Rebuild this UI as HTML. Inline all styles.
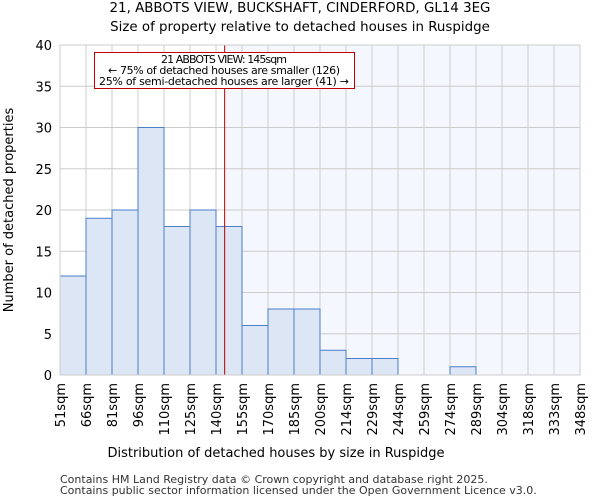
<!DOCTYPE html>
<html><head><meta charset="utf-8"><style>
body{margin:0;background:#fff;font-family:"DejaVu Sans","Liberation Sans",sans-serif}
</style></head><body>
<svg id="chart" width="600" height="500" xmlns="http://www.w3.org/2000/svg" font-family="DejaVu Sans, Liberation Sans, sans-serif">
<text x="300" y="12" text-anchor="middle" font-size="13.4">21, ABBOTS VIEW, BUCKSHAFT, CINDERFORD, GL14 3EG</text>
<text x="300" y="31" text-anchor="middle" font-size="13.4">Size of property relative to detached houses in Ruspidge</text>
<g id="plot"></g>
<text x="276" y="457" text-anchor="middle" font-size="13">Distribution of detached houses by size in Ruspidge</text>
<text transform="translate(13,210) rotate(-90)" text-anchor="middle" font-size="13">Number of detached properties</text>
<text x="60" y="483" font-size="11" fill="#333">Contains HM Land Registry data © Crown copyright and database right 2025.</text>
<text x="60" y="494" font-size="11" fill="#333">Contains public sector information licensed under the Open Government Licence v3.0.</text>
</svg>
<script>
const binLabels=["51sqm","66sqm","81sqm","96sqm","110sqm","125sqm","140sqm","155sqm","170sqm","185sqm","200sqm","214sqm","229sqm","244sqm","259sqm","274sqm","289sqm","304sqm","318sqm","333sqm","348sqm"];
const binEdges=[51,66,81,96,110,125,140,155,170,185,200,214,229,244,259,274,289,304,318,333,348];
const counts=[12,19,20,30,18,20,18,6,8,8,3,2,2,0,0,1,0,0,0,0];
const yTicks=[0,5,10,15,20,25,30,35,40];
const propertySize=145;
const annotationLines=["21 ABBOTS VIEW: 145sqm","← 75% of detached houses are smaller (126)","25% of semi-detached houses are larger (41) →"];
const NS="http://www.w3.org/2000/svg";
const L=60,R=580,T=45,B=375,yMax=40;
const g=document.getElementById('plot');
const xi=i=>L+i*(R-L)/counts.length;
const xv=v=>{for(let i=0;i<binEdges.length-1;i++){if(v<=binEdges[i+1])return xi(i)+(v-binEdges[i])/(binEdges[i+1]-binEdges[i])*(xi(i+1)-xi(i));}return R;};
const y=v=>B-v/yMax*(B-T);
function mk(tag,attrs){const e=document.createElementNS(NS,tag);for(const k in attrs)e.setAttribute(k,attrs[k]);g.appendChild(e);return e;}
const px=xv(propertySize);
let e=mk('rect',{x:px,y:T,width:R-px,height:B-T,fill:'#f4f7fd'});


yTicks.forEach(t=>{let l=mk('line',{x1:L,x2:R,y1:y(t),y2:y(t),stroke:'#ccc'});


let tx=mk('text',{x:L-8,y:y(t)+5,'text-anchor':'end','font-size':13});tx.textContent=t;

});
binLabels.forEach((lab,i)=>{let l=mk('line',{x1:xi(i),x2:xi(i),y1:T,y2:B,stroke:'#ccc'});


let tx=mk('text',{transform:`translate(${xi(i)+5},${B+8}) rotate(-90)`,'text-anchor':'end','font-size':13});tx.textContent=lab;

});
counts.forEach((c,i)=>{if(c<=0)return;let r=mk('rect',{x:xi(i),y:y(c),width:xi(i+1)-xi(i),height:B-y(c),fill:'#dce6f4',stroke:'#4a7fcb','stroke-width':1});

});
e=mk('line',{x1:px,x2:px,y1:T,y2:B,stroke:'#b00000','stroke-width':1});


e=mk('rect',{x:94.5,y:52.5,width:260,height:36,fill:'#fff',stroke:'#c00000'});


annotationLines.forEach((s,i)=>{let tx=mk('text',{x:224,y:63+i*11,'text-anchor':'middle','font-size':11,textLength:i==0?126:(i==1?232:250)});tx.textContent=s;

});
e=mk('rect',{x:L,y:T,width:R-L,height:B-T,fill:'none',stroke:'#ccc'});


</script>
</body></html>
